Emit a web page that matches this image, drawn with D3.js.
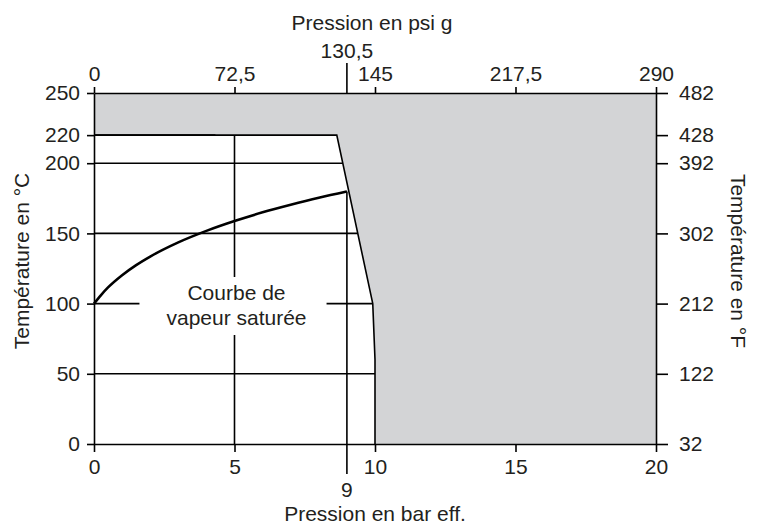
<!DOCTYPE html>
<html>
<head>
  <meta charset="utf-8">
  <title>Courbe de vapeur saturée</title>
  <style>
    html, body {
      margin: 0;
      padding: 0;
      background: #fff;
    }
    text {
      font-family: "Liberation Sans", Arial, Helvetica, sans-serif;
      fill: #231f20;
    }
    .axis text {
      font-size: 21px;
      fill: #231f20;
    }
    .axis line, .axis path {
      stroke: #000;
      stroke-width: 1.6px;
    }
    .grid {
      stroke: #000;
      stroke-width: 1.6px;
      fill: none;
    }
  </style>
  <script src="https://d3js.org/d3.v7.min.js"></script>
</head>
<body>
  <div id="chart"></div>

  <script>
    // axis ticks
    const barTicks = [0, 5, 10, 15, 20];
    const psiLabels = ["0", "72,5", "145", "217,5", "290"];
    const celsiusTicks = [0, 50, 100, 150, 200, 220, 250];
    const fahrenheitLabels = ["32", "122", "212", "302", "392", "428", "482"];
    const gridTemps = [50, 100, 150, 200, 220];

    // saturated steam curve (bar g -> °C)
    const steamBar = [0, 0.25, 0.5, 1, 1.5, 2, 3, 4, 5, 6, 7, 8, 9];
    const steamTemp = [100, 106.1, 111.5, 120.2, 127.4, 133.5, 143.6, 151.8, 158.8, 165, 170.4, 175.4, 179.9];

    // limit of the allowed zone (bar g, °C)
    const limitBar = [0, 8.64, 9.92, 10, 10];
    const limitTemp = [220, 220, 100, 60, 0];

    const width = 761, height = 525;
    const margin = { top: 93, right: 105, bottom: 81, left: 94 };
    const fs = 21;

    const svg = d3.select("#chart")
      .append("svg")
      .attr("width", width)
      .attr("height", height);

    const x = d3.scaleLinear().domain([0, 20]).range([margin.left, width - margin.right]);
    const y = d3.scaleLinear().domain([0, 250]).range([height - margin.bottom, margin.top]);

    // bar -> psi and °C -> °F labels
    const psiOf = d3.scaleOrdinal().domain(barTicks).range(psiLabels);
    const fOf = d3.scaleOrdinal().domain(celsiusTicks).range(fahrenheitLabels);

    // boundary x for a given temperature
    const limitAt = d3.scaleLinear().domain(limitTemp.slice().reverse()).range(limitBar.slice().reverse());

    // shaded zone
    const zone = limitBar.map((b, i) => [b, limitTemp[i]]).concat([[20, 0], [20, 250], [0, 250]]);
    svg.append("path")
      .attr("d", d3.line().x(d => x(d[0])).y(d => y(d[1]))(zone) + "Z")
      .attr("fill", "#d3d4d6")
      .attr("stroke", "none");

    // horizontal grid lines up to the limit
    svg.selectAll(".hgrid")
      .data(gridTemps)
      .enter()
      .append("line")
      .attr("class", "grid")
      .attr("x1", x(0))
      .attr("x2", d => x(limitAt(d)))
      .attr("y1", d => y(d))
      .attr("y2", d => y(d));

    // vertical line at 5 bar
    svg.append("line")
      .attr("class", "grid")
      .attr("x1", x(5)).attr("x2", x(5))
      .attr("y1", y(220)).attr("y2", y(0));

    // limit line
    svg.append("path")
      .attr("class", "grid")
      .attr("d", d3.line().x(d => x(d)).y((d, i) => y(limitTemp[i]))(limitBar));

    // label, with a white box clearing the grid
    const label = svg.append("g");
    const lbl = label.append("text")
      .attr("text-anchor", "middle")
      .attr("font-size", fs);
    lbl.append("tspan").attr("x", x(5) + 2).attr("y", 300).text("Courbe de");
    lbl.append("tspan").attr("x", x(5) + 2).attr("y", 325).text("vapeur saturée");
    const bb = lbl.node().getBBox();
    label.insert("rect", "text")
      .attr("x", bb.x - 27)
      .attr("y", bb.y - 4)
      .attr("width", bb.width + 47)
      .attr("height", bb.height + 10)
      .attr("fill", "#fff");

    // line at 9 bar, from the curve end down past the axis
    svg.append("line")
      .attr("class", "grid")
      .attr("x1", x(9)).attr("x2", x(9))
      .attr("y1", y(steamTemp[steamTemp.length - 1]))
      .attr("y2", y(0) + 30);

    // saturated steam curve
    svg.append("path")
      .attr("d", d3.line().curve(d3.curveMonotoneX)
        .x(d => x(d)).y((d, i) => y(steamTemp[i]))(steamBar))
      .attr("fill", "none")
      .attr("stroke", "#000")
      .attr("stroke-width", 2.6);

    // axes
    svg.append("g")
      .attr("class", "axis")
      .attr("transform", `translate(0,${y(0)})`)
      .call(d3.axisBottom(x).tickValues(barTicks).tickSize(8).tickSizeOuter(0).tickPadding(7).tickFormat(d3.format("d")));

    svg.append("g")
      .attr("class", "axis")
      .attr("transform", `translate(0,${y(250)})`)
      .call(d3.axisTop(x).tickValues(barTicks).tickSize(6).tickSizeOuter(0).tickPadding(6).tickFormat(d => psiOf(d)));

    svg.append("g")
      .attr("class", "axis")
      .attr("transform", `translate(${x(0)},0)`)
      .call(d3.axisLeft(y).tickValues(celsiusTicks).tickSize(7).tickSizeOuter(0).tickPadding(7).tickFormat(d3.format("d")));

    svg.append("g")
      .attr("class", "axis")
      .attr("transform", `translate(${x(20)},0)`)
      .call(d3.axisRight(y).tickValues(celsiusTicks).tickSize(12).tickSizeOuter(0).tickPadding(11).tickFormat(d => fOf(d)));

    svg.selectAll(".axis .domain").attr("stroke-width", 2);

    // extra marks at 9 bar / 130,5 psi
    svg.append("line")
      .attr("class", "grid")
      .attr("x1", x(9)).attr("x2", x(9))
      .attr("y1", y(250)).attr("y2", y(250) - 30);
    svg.append("text")
      .attr("x", x(9)).attr("y", 58)
      .attr("text-anchor", "middle").attr("font-size", fs)
      .text("130,5");
    svg.append("text")
      .attr("x", x(9)).attr("y", 497)
      .attr("text-anchor", "middle").attr("font-size", fs)
      .text("9");

    // titles
    svg.append("text")
      .attr("x", 372).attr("y", 30)
      .attr("text-anchor", "middle").attr("font-size", fs)
      .text("Pression en psi g");
    svg.append("text")
      .attr("x", 375).attr("y", 521)
      .attr("text-anchor", "middle").attr("font-size", fs)
      .text("Pression en bar eff.");
    svg.append("text")
      .attr("transform", "translate(29,261) rotate(-90)")
      .attr("text-anchor", "middle").attr("font-size", fs)
      .text("Température en °C");
    svg.append("text")
      .attr("transform", "translate(731,261) rotate(90)")
      .attr("text-anchor", "middle").attr("font-size", fs)
      .text("Température en °F");
  </script>
</body>
</html>
